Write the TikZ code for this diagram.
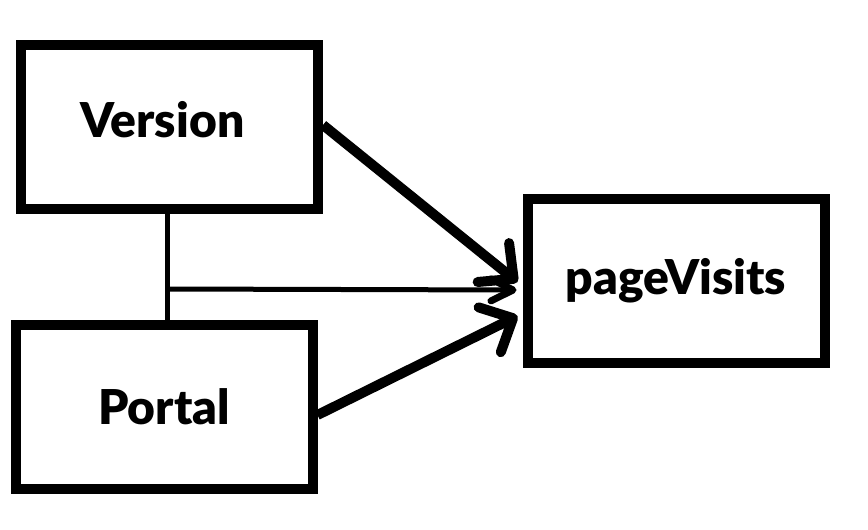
\documentclass[tikz,border=0pt]{standalone}
\usepackage{fontspec}
\setmainfont{Lato}[UprightFont=* Black]
\usetikzlibrary{arrows.meta}
\begin{document}
\begin{tikzpicture}[x=1pt,y=-1pt,
  box/.style={draw=black,line width=10pt,minimum width=297pt,minimum height=164pt,inner sep=0pt,font=\fontsize{48}{52}\selectfont,text=black},
  bigarrow/.style={line width=10pt,-{Straight Barb[length=26pt,width=50pt,round,line width=10pt]}},
  thinarrow/.style={line width=5pt,-{Straight Barb[length=22pt,width=22pt,round,line width=7pt]}},
  thinline/.style={line width=5pt}]
\useasboundingbox (0,0) rectangle (868,530);
\node[box,text height=35pt,text depth=14pt] (version) at (169.5,127) {\mbox{Version\kern14pt}};
\node[box] (portal) at (164,407) {Portal};
\node[box] (pv) at (676,281) {pageVisits};
\coordinate (vb) at (167,209);
\coordinate (pt) at (167,325);
\coordinate (j) at (167,289);
\draw[thinline] (vb) -- (pt);
\draw[bigarrow] ([yshift=2pt]version.east) -- ([yshift=-1pt,xshift=-5pt]pv.west);
\draw[thinarrow] (j) -- ([yshift=-9pt,xshift=-6pt]pv.west);
\draw[bigarrow] ([yshift=-8pt]portal.east) -- ([yshift=-35pt,xshift=-5pt]pv.west);
\end{tikzpicture}
\end{document}
